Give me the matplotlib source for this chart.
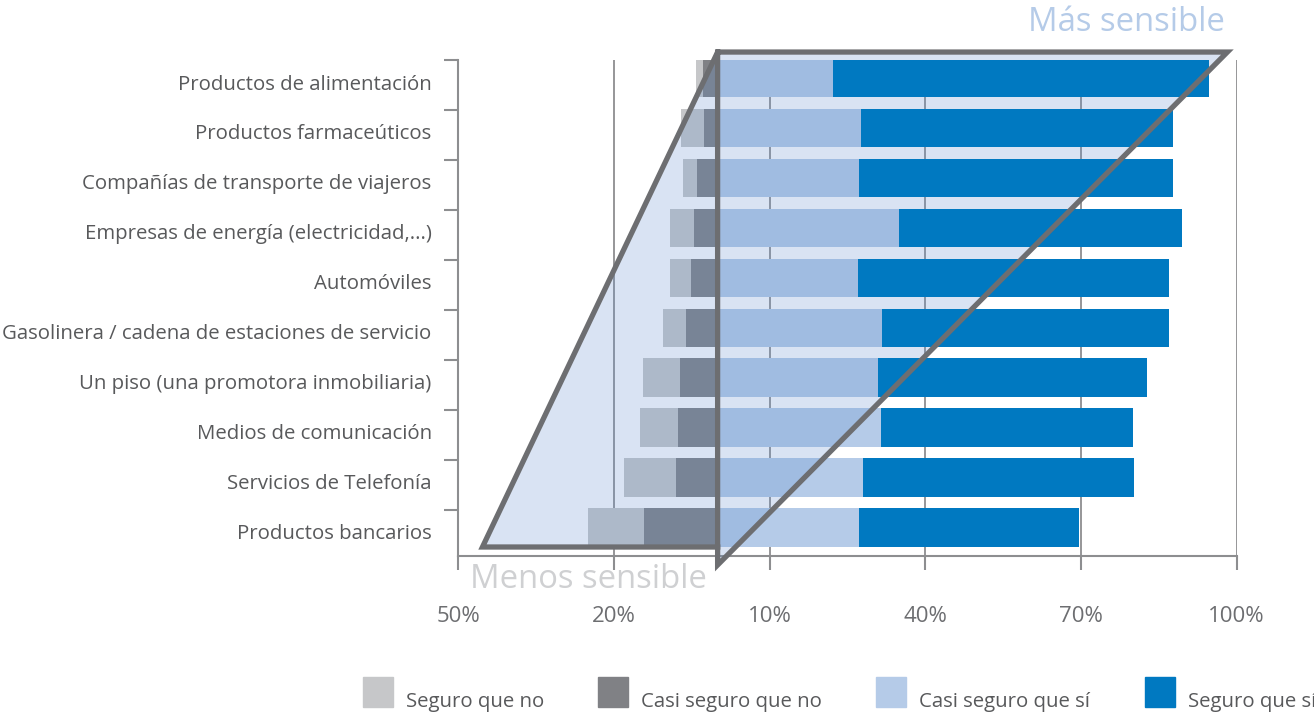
import numpy as np
import matplotlib.pyplot as plt
from matplotlib.patches import Rectangle, Polygon

plt.rcParams['font.family'] = ['Open Sans', 'DejaVu Sans']

categories = ["Productos de alimentación", "Productos farmaceúticos",
              "Compañías de transporte de viajeros", "Empresas de energía (electricidad,...)",
              "Automóviles", "Gasolinera / cadena de estaciones de servicio",
              "Un piso (una promotora inmobiliaria)", "Medios de comunicación",
              "Servicios de Telefonía", "Productos bancarios"]
seguro_no = np.array([1.2, 4.5, 2.7, 4.5, 4.0, 4.6, 7.0, 7.3, 10.0, 10.9])
casi_no = np.array([2.9, 2.6, 3.9, 4.6, 5.2, 6.0, 7.3, 7.7, 8.1, 14.1])
casi_si = np.array([22.2, 27.6, 27.2, 35.0, 27.0, 31.7, 30.8, 31.4, 28.1, 27.2])
seguro_si = np.array([72.5, 60.2, 60.6, 54.5, 60.0, 55.3, 52.0, 48.7, 52.2, 42.5])

series = ["Seguro que no", "Casi seguro que no", "Casi seguro que sí", "Seguro que sí"]
colors = ["#c6c7c9", "#808185", "#b5cbe8", "#0079c1"]
xticks = [-50, -20, 10, 40, 70, 100]
xticklabels = ["50%", "20%", "10%", "40%", "70%", "100%"]

grey = "#8d8e90"
fig = plt.figure(figsize=(13.14, 7.13), dpi=100)
ax = fig.add_axes([0.3486, 0.2202, 0.5926, 0.6956])

y = np.arange(len(categories))
h = 0.77
ax.barh(y, -casi_no, height=h, color=colors[1], zorder=2)
ax.barh(y, -seguro_no, left=-casi_no, height=h, color=colors[0], zorder=2)
ax.barh(y, casi_si, height=h, color=colors[2], zorder=2)
# dark blue sits above the tint so it keeps its colour
ax.barh(y, seguro_si, left=casi_si, height=h, color=colors[3], zorder=3.5)

for v in xticks[1:]:
    ax.axvline(v, color=grey, lw=1.3, zorder=1)

ax.set_xlim(-50, 100)
ax.set_ylim(9.57, -0.36)
for s in ["top", "right"]:
    ax.spines[s].set_visible(False)
for s in ["left", "bottom"]:
    ax.spines[s].set_color(grey)
    ax.spines[s].set_linewidth(1.5)

ax.set_xticks(xticks, xticklabels)
ax.tick_params(axis="x", length=10, width=1.5, color=grey, pad=26,
               labelsize=16, labelcolor="#6d6e71")
ax.set_yticks(y + 0.08, categories)
ax.tick_params(axis="y", length=0, pad=19, labelsize=14.7, labelcolor="#58595b")
ax.set_yticks(y - 0.36, minor=True)
ax.tick_params(axis="y", which="minor", length=10, width=1.5, color=grey)

# "sensibilidad" shape drawn over the bars
A, B, C, D, E = (0, -0.52), (98.2, -0.52), (0, 9.75), (-45.3, 9.39), (0, 9.39)
for tri in ([A, D, E], [A, B, C]):
    ax.add_patch(Polygon(tri, closed=True, facecolor="#618ecd", alpha=0.24,
                         edgecolor="none", zorder=3, clip_on=False))
path = [E, D, A, B, C, A]
ax.plot([p[0] for p in path], [p[1] for p in path], color="#6d6e71", lw=3.8,
        solid_joinstyle="miter", zorder=4, clip_on=False)

fig.text(0.932, 0.968, "Más sensible", ha="right", va="center", fontsize=23.7, color="#b5cbe8")
fig.text(0.358, 0.187, "Menos sensible", ha="left", va="center", fontsize=23.7, color="#cfd0d2")

# legend, last entry runs off the right edge as in the original
leg_x = [363, 598, 876, 1145]
W, H = 1314, 713
for x0, lab, col in zip(leg_x, series, colors):
    fig.add_artist(Rectangle((x0 / W, 1 - 707 / H), 30 / W, 30 / H,
                             transform=fig.transFigure, color=col))
    fig.text((x0 + 43) / W, 1 - 707 / H, lab, ha="left", va="baseline",
             fontsize=14.7, color="#58595b")

fig.savefig("out.png", dpi=100)
